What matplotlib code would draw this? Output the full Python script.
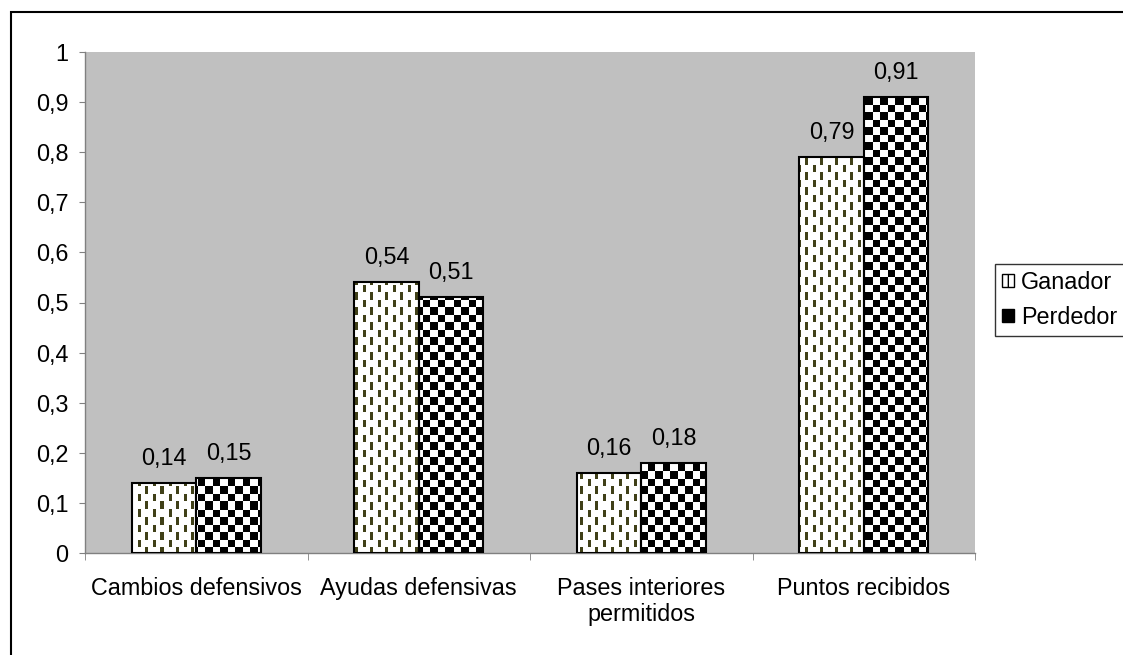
import numpy as np
import matplotlib
matplotlib.use('Agg')
import matplotlib.pyplot as plt
from matplotlib.patches import Rectangle, Patch

# data
categories = ['Cambios defensivos', 'Ayudas defensivas', 'Pases interiores\npermitidos', 'Puntos recibidos']
series_names = ['Ganador', 'Perdedor']
ganador = [0.14, 0.54, 0.16, 0.79]
perdedor = [0.15, 0.51, 0.18, 0.91]
yticks = [0, 0.1, 0.2, 0.3, 0.4, 0.5, 0.6, 0.7, 0.8, 0.9, 1]

plt.rcParams['font.family'] = ['Liberation Sans', 'DejaVu Sans']
plt.rcParams['font.size'] = 16.8

W, H = 1123, 655
fig = plt.figure(figsize=(W / 100, H / 100), dpi=100)
left, right, bottom, top = 85 / W, 975 / W, 1 - 553 / H, 1 - 52 / H
ax = fig.add_axes([left, bottom, right - left, top - bottom])
ax.set_facecolor('#c0c0c0')

# pattern images in axes pixels
pw, ph = int(round((right - left) * W)), int(round((top - bottom) * H))
yy, xx = np.mgrid[0:ph, 0:pw]
checker = (((xx // 7.5).astype(int) + (yy // 7.5).astype(int)) % 2 == 0)
img_check = np.ones((ph, pw, 3))
img_check[checker] = 0.0
img_dash = np.ones((ph, pw, 3))
col = (xx // 7.5).astype(int)
dash = ((xx % 7.5) < 2.6) & (((yy + (col % 2) * 7.5) % 15) < 7.5)
img_dash[dash] = np.array([0x40, 0x40, 0x18]) / 255.0

x = np.arange(len(categories))
w = 0.29
b1 = ax.bar(x - w / 2, ganador, w, facecolor='none', edgecolor='black', linewidth=1.5, zorder=3)
b2 = ax.bar(x + w / 2, perdedor, w, facecolor='none', edgecolor='black', linewidth=1.5, zorder=3)

xlim = (-0.5, len(categories) - 0.5)
ylim = (0, 1)
for bars, img in [(b1, img_dash), (b2, img_check)]:
    for r in bars:
        im = ax.imshow(img, extent=(xlim[0], xlim[1], ylim[0], ylim[1]), aspect='auto',
                       interpolation='nearest', zorder=2)
        im.set_clip_path(r)

ax.set_xlim(*xlim)
ax.set_ylim(*ylim)

# value labels
for bars, vals in [(b1, ganador), (b2, perdedor)]:
    for r, v in zip(bars, vals):
        ax.annotate(('%.2f' % v).replace('.', ','), (r.get_x() + r.get_width() / 2, v),
                    xytext=(0, 9.5), textcoords='offset points', ha='center', va='bottom')

# axes styling
for s in ['top', 'right']:
    ax.spines[s].set_visible(False)
for s in ['left', 'bottom']:
    ax.spines[s].set_color('#808080')
    ax.spines[s].set_linewidth(1)
ax.set_yticks(yticks)
ax.set_yticklabels([('%g' % t).replace('.', ',') for t in yticks])
ax.tick_params(axis='y', direction='out', length=4, color='#808080', pad=8)
ax.set_xticks(x)
ax.set_xticklabels(categories)
ax.tick_params(axis='x', which='major', length=0, pad=17)
ax.set_xticks(np.arange(len(categories) + 1) - 0.5, minor=True)
ax.tick_params(axis='x', which='minor', direction='out', length=5, color='#808080')

# legend
handles = [Patch(facecolor='white', edgecolor='black', hatch='|', label=series_names[0]),
           Patch(facecolor='black', edgecolor='black', label=series_names[1])]
leg = fig.legend(handles=handles, loc='upper left', bbox_to_anchor=(995 / W, 1 - 264 / H),
                 frameon=True, fancybox=False, handlelength=0.5, handleheight=0.5,
                 handletextpad=0.3, borderpad=0.3, labelspacing=0.5, borderaxespad=0)
leg.get_frame().set_edgecolor('black')
leg.get_frame().set_linewidth(1)

# outer chart border
fig.patches.append(Rectangle((11 / W, -0.1), 1.2, 1 - 12 / H + 0.1, transform=fig.transFigure,
                             fill=False, edgecolor='black', linewidth=1.5))

plt.savefig('out.png', dpi=100)
